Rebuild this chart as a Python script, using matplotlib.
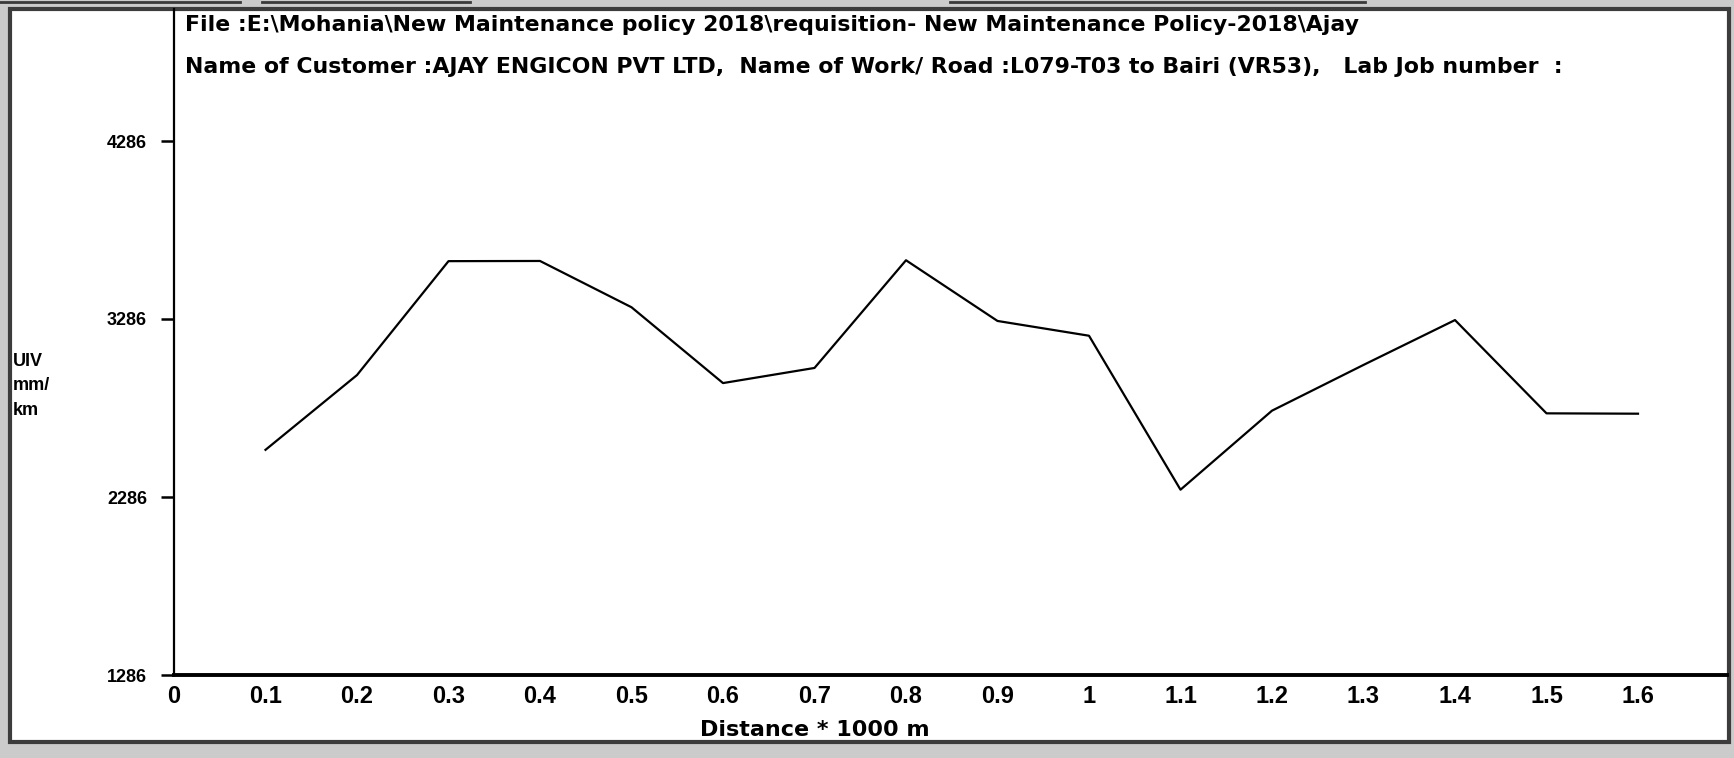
import matplotlib
matplotlib.use("Agg")
import matplotlib.pyplot as plt
from matplotlib.patches import Rectangle
from matplotlib.lines import Line2D

# distance (*1000 m) and unevenness index
distance = [0.1, 0.2, 0.3, 0.4, 0.5, 0.6, 0.7, 0.8, 0.9, 1.0, 1.1, 1.2, 1.3, 1.4, 1.5, 1.6]
uiv = [2551, 2971, 3611, 3612, 3352, 2926, 3011, 3616, 3275, 3192, 2327, 2771, 3028, 3280, 2756, 2754]

y_ticks = [1286, 2286, 3286, 4286]
x_ticks = [0, 0.1, 0.2, 0.3, 0.4, 0.5, 0.6, 0.7, 0.8, 0.9, 1, 1.1, 1.2, 1.3, 1.4, 1.5, 1.6]
x_tick_labels = ["0", "0.1", "0.2", "0.3", "0.4", "0.5", "0.6", "0.7", "0.8", "0.9", "1",
                 "1.1", "1.2", "1.3", "1.4", "1.5", "1.6"]

title_1 = r"File :E:\Mohania\New Maintenance policy 2018\requisition- New Maintenance Policy-2018\Ajay"
title_2 = ("Name of Customer :AJAY ENGICON PVT LTD,  Name of Work/ Road :L079-T03 to Bairi (VR53),"
           "   Lab Job number  :")

W, H = 1734, 758
arial = ["Liberation Sans", "DejaVu Sans"]
wide = ["DejaVu Sans"]

fig = plt.figure(figsize=(W / 100, H / 100), dpi=100, facecolor="#cbcbcb")

# bits of the window panels above the report
for x0, x1 in [(0, 240), (262, 470), (950, 1365)]:
    fig.add_artist(Line2D([x0 / W, x1 / W], [1 - 2 / H, 1 - 2 / H], color="#3a3a3a", lw=2))

# white report frame
fig.add_artist(Rectangle((10 / W, 1 - 742 / H), (1729 - 10) / W, (742 - 9) / H,
                         transform=fig.transFigure, facecolor="white",
                         edgecolor="#3c3c3c", lw=3, zorder=0))

left, right, bottom, top = 174, 1727, 675, 9
ax = fig.add_axes([left / W, 1 - bottom / H, (right - left) / W, (bottom - top) / H])
ax.patch.set_alpha(0)

ax.plot(distance, uiv, color="black", lw=1.6)

ax.set_xlim(0, (right - left) / 915)
ax.set_ylim(1286, 1286 + (bottom - top) / 178 * 1000)

for s in ["top", "right"]:
    ax.spines[s].set_visible(False)
ax.spines["left"].set_linewidth(1.6)
ax.spines["bottom"].set_linewidth(2.8)

ax.set_yticks(y_ticks)
ax.set_yticklabels([str(v) for v in y_ticks], fontfamily=arial, fontweight="bold", fontsize=13)
ax.tick_params(axis="y", length=9.5, width=1.8, direction="out", pad=10)

ax.set_xticks(x_ticks)
ax.set_xticklabels(x_tick_labels, fontfamily=arial, fontweight="bold", fontsize=17)
ax.tick_params(axis="x", length=0, pad=7)

fig.text(815 / W, 1 - 730 / H, "Distance * 1000 m", fontfamily=wide, fontweight="bold",
         fontsize=16, ha="center", va="center")

fig.text(13 / W, 1 - 386 / H, "UIV\nmm/\nkm", fontfamily=arial, fontweight="bold",
         fontsize=13, ha="left", va="center", linespacing=1.55)

fig.text(185 / W, 1 - 25 / H, title_1, fontfamily=wide, fontweight="bold", fontsize=15.8,
         ha="left", va="center")
fig.text(185 / W, 1 - 67 / H, title_2, fontfamily=wide, fontweight="bold", fontsize=15.8,
         ha="left", va="center")

fig.savefig("out.png", dpi=100, facecolor=fig.get_facecolor())
